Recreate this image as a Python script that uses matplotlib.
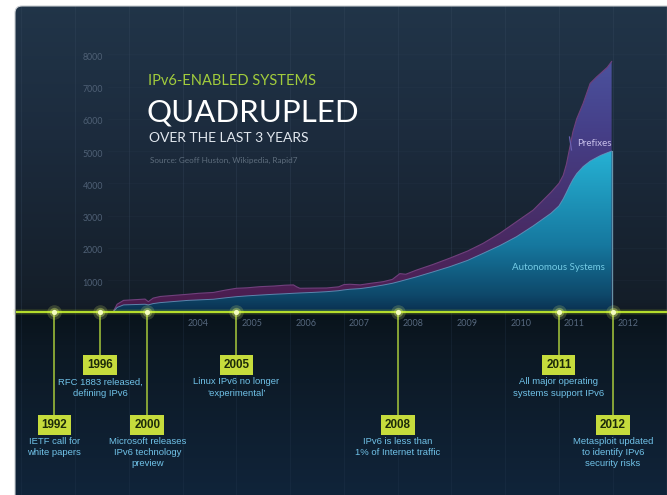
import numpy as np
import matplotlib
matplotlib.use('Agg')
import matplotlib.pyplot as plt
from matplotlib.colors import LinearSegmentedColormap, to_rgb
from matplotlib.patches import FancyBboxPatch
from matplotlib.transforms import IdentityTransform, offset_copy

# ---------------- data ----------------
years = [2002.70, 2002.78, 2002.90, 2003.10, 2003.30, 2003.36, 2003.45, 2003.58, 2003.80, 2003.95,
         2004.10, 2004.30, 2004.57, 2004.80, 2005.00, 2005.20, 2005.44, 2005.70, 2005.90, 2006.06,
         2006.12, 2006.18, 2006.40, 2006.68, 2006.90, 2007.00, 2007.11, 2007.30, 2007.50, 2007.73,
         2007.90, 2008.04, 2008.15, 2008.35, 2008.65, 2008.97, 2009.30, 2009.59, 2009.90, 2010.21,
         2010.52, 2010.85, 2011.00, 2011.08, 2011.14, 2011.20, 2011.26, 2011.33, 2011.45, 2011.58,
         2011.70, 2011.78, 2011.90, 2011.98]
prefixes = [0, 250, 370, 390, 410, 330, 440, 490, 520, 540,
            560, 590, 615, 690, 745, 760, 795, 815, 840, 850,
            790, 745, 750, 755, 790, 860, 870, 850, 900, 950,
            1020, 1200, 1180, 1310, 1480, 1680, 1900, 2140, 2450, 2810,
            3170, 3720, 4000, 4250, 4600, 5100, 5600, 6000, 6480, 7100,
            7300, 7420, 7600, 7780]
autonomous = [0, 150, 230, 240, 250, 230, 270, 300, 330, 350,
              370, 385, 405, 450, 485, 510, 535, 560, 575, 590,
              595, 600, 615, 640, 670, 695, 715, 735, 780, 845,
              900, 960, 1010, 1100, 1250, 1415, 1610, 1830, 2070, 2345,
              2680, 3070, 3300, 3520, 3720, 3930, 4120, 4300, 4520, 4690,
              4800, 4870, 4950, 5000]
y_ticks = [1000, 2000, 3000, 4000, 5000, 6000, 7000, 8000]
x_ticks = [2004, 2005, 2006, 2007, 2008, 2009, 2010, 2011, 2012]

event_years = ['1992', '1996', '2000', '2005', '2008', '2011', '2012']
event_pos = [2001.61, 2002.46, 2003.34, 2005.0, 2008.0, 2011.0, 2012.0]
event_desc = ['IETF call for\nwhite papers',
              'RFC 1883 released,\ndefining IPv6',
              'Microsoft releases\nIPv6 technology\npreview',
              'Linux IPv6 no longer\n\u2018experimental\u2019',
              'IPv6 is less than\n1% of Internet traffic',
              'All major operating\nsystems support IPv6',
              'Metasploit updated\nto identify IPv6\nsecurity risks']
event_high = [False, True, False, True, False, True, False]

# ---------------- layout helpers (pixel -> data) ----------------
W, H = 667, 495
PX_YEAR = 53.75          # pixels per year
X_REF_PX, X_REF = 182.7, 2004.0
BASE_PX = 312.3          # pixel row of value 0
PX_PER_UNIT = 32.24 / 1000.0

def px_x(px):
    return X_REF + (px - X_REF_PX) / PX_YEAR

def px_y(py):
    return (BASE_PX - py) / PX_PER_UNIT

fig = plt.figure(figsize=(W / 100, H / 100), dpi=100, facecolor='white')
ax = fig.add_axes([0, 0, 1, 1])
ax.axis('off')
XL = (px_x(0), px_x(W))
YL = (px_y(H), px_y(0))

# ---------------- panel background ----------------
panel = FancyBboxPatch((15, -20), 720, H - 6 + 20,
                       boxstyle='round,pad=0,rounding_size=7',
                       transform=IdentityTransform(), facecolor='none',
                       edgecolor='#c9cdd2', lw=0.8, zorder=0.5)
fig.patches.append(panel)

stops = [(0, '#213549'), (140, '#1c2b3d'), (300, '#141e29'), (312, '#121a24'),
         (313, '#09131b'), (345, '#0c1823'), (495, '#10243a')]
rows = np.arange(H)
bg = np.zeros((H, 1, 3))
for c in range(3):
    bg[:, 0, c] = np.interp(rows, [s[0] for s in stops], [to_rgb(s[1])[c] for s in stops])
im_bg = ax.imshow(bg, extent=[XL[0], XL[1], YL[0], YL[1]], origin='upper',
                  aspect='auto', zorder=0, interpolation='bilinear')
im_bg.set_clip_path(panel)

# gridlines
grid_lines = []
for yr in range(2001, 2014):
    grid_lines += ax.plot([yr, yr], [0, YL[1]], color='#3a4c62', lw=0.6, alpha=0.35, zorder=1)
    grid_lines += ax.plot([yr, yr], [YL[0], 0], color='#2a3d55', lw=0.6, alpha=0.3, zorder=1)
for v in y_ticks:
    grid_lines += ax.plot([px_x(108), XL[1]], [v, v], color='#3a4c62', lw=0.5, alpha=0.15, zorder=1)
for ln in grid_lines:
    ln.set_clip_path(panel)

# ---------------- gradient areas ----------------
def gradient_area(x, y, cstops, vmax, z):
    coll = ax.fill_between(x, 0, y, facecolor='none', edgecolor='none', zorder=z)
    cmap = LinearSegmentedColormap.from_list('g', cstops)
    grad = np.linspace(0, 1, 256).reshape(-1, 1)
    im = ax.imshow(grad, extent=[min(x), max(x), 0, vmax], origin='lower', cmap=cmap,
                   aspect='auto', zorder=z, interpolation='bilinear')
    im.set_clip_path(coll.get_paths()[0], transform=ax.transData)

gradient_area(years, prefixes,
              [(0, '#4a1a4a'), (0.12, '#4d2156'), (0.4, '#47306c'), (0.7, '#453f88'), (1, '#4c54a0')],
              8000, 2)
ax.plot(years, prefixes, color='#70407c', lw=0.8, zorder=2.1)
gradient_area(years, autonomous,
              [(0, '#0a3050'), (0.1, '#0e486a'), (0.4, '#16789f'), (1, '#27b6d8')],
              5200, 3)
ax.plot(years, autonomous, color='#6a98c0', lw=0.7, alpha=0.8, zorder=3.1)
ax.plot([years[-1], years[-1]], [0, autonomous[-1]], color='#8cc4dc', lw=0.8, alpha=0.7, zorder=3.2)

# series labels
ax.text(px_x(577), px_y(143), 'Prefixes', family='Lato', fontsize=7, color='#c8c0ea',
        ha='left', va='center', zorder=6)
ax.plot([px_x(569.5), px_x(571.5)], [px_y(137), px_y(150)], color='#6a60b0', lw=0.9, zorder=3.3)
ax.text(px_x(512), px_y(268), 'Autonomous Systems', family='Lato', fontsize=7, color='#74cce6',
        ha='left', va='center', zorder=6)

# ---------------- axes labels ----------------
ytr = offset_copy(ax.transData, fig=fig, x=0, y=-3, units='dots')
for v in y_ticks:
    ax.text(px_x(103), v, f'{v}', transform=ytr, family='Lato', fontsize=6.3,
            color='#4f6075', ha='right', va='center', zorder=6)
xtr = offset_copy(ax.transData, fig=fig, x=5, y=0, units='dots')
for yr in x_ticks:
    ax.text(yr, px_y(323), f'{yr}', transform=xtr, family='Lato', fontsize=6.5,
            color='#56687e', ha='left', va='center', zorder=6)

# ---------------- timeline ----------------
ax.plot([px_x(15.5), XL[1]], [0, 0], color='#b4dc2c', lw=1.6, zorder=5, solid_capstyle='butt')
ax.plot([px_x(15.5), XL[1]], [0, 0], color='#b4dc2c', lw=4, alpha=0.15, zorder=4.9)

HIGH_BOX, LOW_BOX = px_y(365), px_y(425)
HIGH_TXT, LOW_TXT = px_y(377.5), px_y(437)
for pos, lab, desc, hi in zip(event_pos, event_years, event_desc, event_high):
    by = HIGH_BOX if hi else LOW_BOX
    ty = HIGH_TXT if hi else LOW_TXT
    ax.plot([pos, pos], [0, by], color='#a6c83a', lw=1.1, zorder=4)
    ax.scatter([pos], [0], s=110, color='#e4f870', alpha=0.18, lw=0, zorder=6)
    ax.scatter([pos], [0], s=45, color='#e4f870', alpha=0.35, lw=0, zorder=6.1)
    ax.scatter([pos], [0], s=14, color='#f4fcc0', lw=0, zorder=6.2)
    ax.text(pos, by, lab, family='Liberation Sans', fontweight='bold', fontsize=8.4,
            color='#1c2a0a', ha='center', va='center', zorder=7,
            bbox=dict(boxstyle='square,pad=0.33', facecolor='#c6dc3c', edgecolor='none'))
    ax.text(pos, ty, desc, family='Liberation Sans', fontsize=6.8, color='#70c2e8',
            ha='center', va='top', linespacing=1.3, zorder=7)

# ---------------- titles ----------------
def fx(px):
    return px / W

def fy(py):
    return 1 - py / H

fig.text(fx(148), fy(85), 'IPv6-ENABLED SYSTEMS', family='Lato', fontsize=10.5,
         color='#a2cc3c', ha='left', va='baseline')
fig.text(fx(146), fy(121), 'QUADRUPLED', family='Lato', fontsize=22.5,
         color='#ffffff', ha='left', va='baseline')
fig.text(fx(149), fy(142), 'OVER THE LAST 3 YEARS', family='Lato', fontsize=10,
         color='#e2e8ef', ha='left', va='baseline')
fig.text(fx(150), fy(163), 'Source: Geoff Huston, Wikipedia, Rapid7', family='Lato', fontsize=5.9,
         color='#5e6d7d', ha='left', va='baseline')

ax.set_xlim(*XL)
ax.set_ylim(*YL)
fig.savefig('out.png', dpi=100, facecolor='white')
